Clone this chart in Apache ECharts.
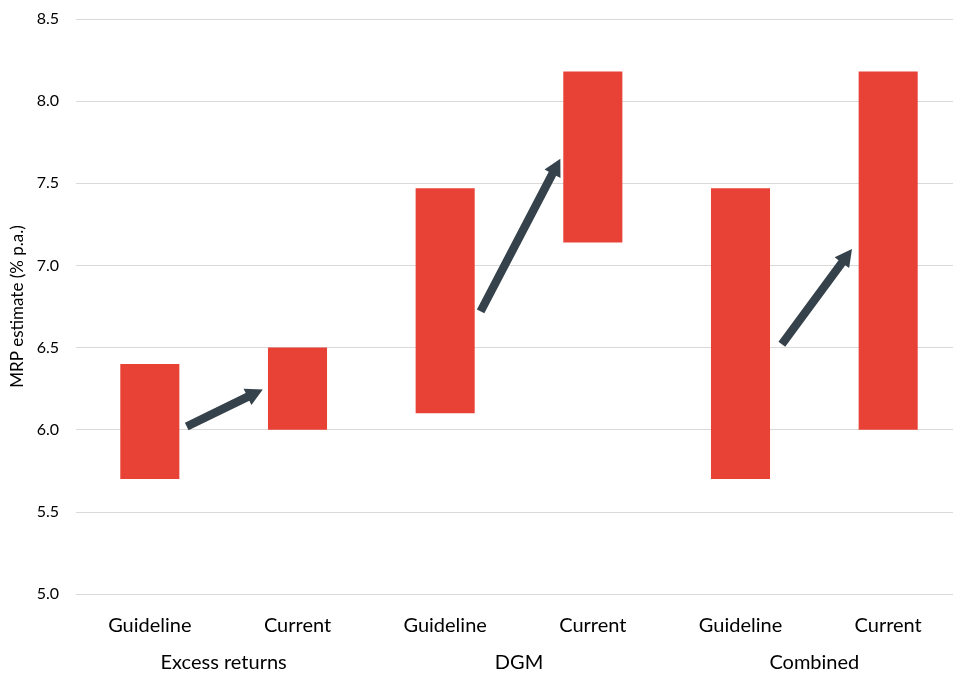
<!DOCTYPE html>
<html><head><meta charset="utf-8">
<script src="https://cdn.jsdelivr.net/npm/echarts@6/dist/echarts.min.js"></script>
<style>html,body{margin:0;padding:0;background:#fff;overflow:hidden}#c{width:962px;height:675px}</style>
</head><body><div id="c"></div>
<script>
const categories = ['Guideline','Current','Guideline','Current','Guideline','Current'];
const groups = ['Excess returns','DGM','Combined'];
const lows  = [5.70, 6.00, 6.10, 7.14, 5.70, 6.00];
const highs = [6.40, 6.50, 7.47, 8.18, 7.47, 8.18];
// arrows: [xStart, yStart, xEnd, yEnd] in (category position, % p.a.)
const arrows = [
  [0.25, 6.02, 0.765, 6.245],
  [2.24, 6.72, 2.78, 7.65],
  [4.28, 6.52, 4.755, 7.10]
];
const yTicks = {min: 5.0, max: 8.5, interval: 0.5};

const FONT = 'Lato, "Open Sans", sans-serif';
const chart = echarts.init(document.getElementById('c'), null, {renderer:'canvas'});
chart.setOption({
  animation: false,
  grid: {left: 76, top: 19, right: 0, bottom: 81, containLabel: false},
  xAxis: [
    {type:'category', data: categories, position:'bottom',
     axisLine:{show:true, lineStyle:{color:'#d9d9d9', width:1}}, axisTick:{show:false},
     axisLabel:{color:'#000', fontFamily:FONT, fontSize:20, margin:22}},
    {type:'category', data: groups, position:'bottom', offset:37,
     axisLine:{show:false}, axisTick:{show:false},
     axisLabel:{color:'#000', fontFamily:FONT, fontSize:20, margin:22}},
    {type:'value', min:-0.5, max:5.5, show:false}
  ],
  yAxis: {
    type:'value', min: yTicks.min, max: yTicks.max, interval: yTicks.interval,
    name:'MRP estimate (% p.a.)', nameLocation:'middle', nameGap:48, nameRotate:90,
    nameTextStyle:{color:'#000', fontFamily:FONT, fontSize:17},
    axisLine:{show:false}, axisTick:{show:false},
    axisLabel:{color:'#000', fontFamily:FONT, fontSize:16, margin:17, formatter: v => v.toFixed(1)},
    splitLine:{lineStyle:{color:'#d9d9d9', width:1}}
  },
  series: [
    {type:'bar', stack:'r', xAxisIndex:0, data: lows, barWidth:'40%',
     itemStyle:{color:'transparent'}, silent:true},
    {type:'bar', stack:'r', xAxisIndex:0, data: highs.map((h,i)=> +(h - lows[i]).toFixed(3)),
     barWidth:'40%', itemStyle:{color:'#e84136'}},
    {type:'custom', xAxisIndex:2, data: arrows, encode:{x:[0,2], y:[1,3]},
     renderItem: function(params, api){
       const p1 = api.coord([api.value(0), api.value(1)]);
       const p2 = api.coord([api.value(2), api.value(3)]);
       const dx = p2[0]-p1[0], dy = p2[1]-p1[1];
       const len = Math.sqrt(dx*dx+dy*dy);
       const ux = dx/len, uy = dy/len, nx = -uy, ny = ux;
       const hl = 17, hw = 9, sw = 4.2;
       const bx = p2[0]-ux*hl, by = p2[1]-uy*hl;
       const pts = [
         [p1[0]+nx*sw, p1[1]+ny*sw],
         [bx+nx*sw, by+ny*sw],
         [bx+nx*hw, by+ny*hw],
         [p2[0], p2[1]],
         [bx-nx*hw, by-ny*hw],
         [bx-nx*sw, by-ny*sw],
         [p1[0]-nx*sw, p1[1]-ny*sw]
       ];
       return {type:'polygon', shape:{points:pts}, style:{fill:'#36424b'}};
     }}
  ]
});
</script></body></html>
